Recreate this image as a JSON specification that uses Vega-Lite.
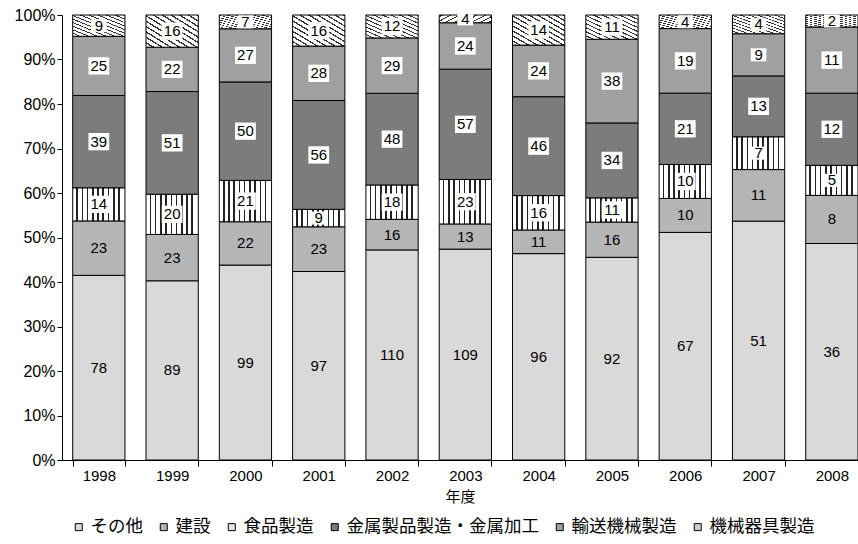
{
  "$schema": "https://vega.github.io/schema/vega-lite/v6.json",
  "width": 796,
  "height": 445,
  "autosize": {"type": "none"},
  "padding": {"left": 62, "top": 15, "right": 0, "bottom": 84},
  "background": "white",
  "config": {
    "view": {"stroke": null},
    "font": "Liberation Sans",
    "axis": {"labelColor": "black", "domainColor": "black", "tickColor": "black", "grid": false, "labelFont": "Liberation Sans", "titleFont": "Noto Sans CJK JP", "titleColor": "black", "titleFontWeight": "normal"},
    "legend": {"labelFont": "Noto Sans CJK JP", "labelColor": "black"}
  },
  "data": {"values": [
    {"year":"1998","cat":"その他","k":1,"n":78},{"year":"1998","cat":"建設","k":2,"n":23},{"year":"1998","cat":"食品製造","k":3,"n":14},{"year":"1998","cat":"金属製品製造・金属加工","k":4,"n":39},{"year":"1998","cat":"輸送機械製造","k":5,"n":25},{"year":"1998","cat":"機械器具製造","k":6,"n":9},
    {"year":"1999","cat":"その他","k":1,"n":89},{"year":"1999","cat":"建設","k":2,"n":23},{"year":"1999","cat":"食品製造","k":3,"n":20},{"year":"1999","cat":"金属製品製造・金属加工","k":4,"n":51},{"year":"1999","cat":"輸送機械製造","k":5,"n":22},{"year":"1999","cat":"機械器具製造","k":6,"n":16},
    {"year":"2000","cat":"その他","k":1,"n":99},{"year":"2000","cat":"建設","k":2,"n":22},{"year":"2000","cat":"食品製造","k":3,"n":21},{"year":"2000","cat":"金属製品製造・金属加工","k":4,"n":50},{"year":"2000","cat":"輸送機械製造","k":5,"n":27},{"year":"2000","cat":"機械器具製造","k":6,"n":7},
    {"year":"2001","cat":"その他","k":1,"n":97},{"year":"2001","cat":"建設","k":2,"n":23},{"year":"2001","cat":"食品製造","k":3,"n":9},{"year":"2001","cat":"金属製品製造・金属加工","k":4,"n":56},{"year":"2001","cat":"輸送機械製造","k":5,"n":28},{"year":"2001","cat":"機械器具製造","k":6,"n":16},
    {"year":"2002","cat":"その他","k":1,"n":110},{"year":"2002","cat":"建設","k":2,"n":16},{"year":"2002","cat":"食品製造","k":3,"n":18},{"year":"2002","cat":"金属製品製造・金属加工","k":4,"n":48},{"year":"2002","cat":"輸送機械製造","k":5,"n":29},{"year":"2002","cat":"機械器具製造","k":6,"n":12},
    {"year":"2003","cat":"その他","k":1,"n":109},{"year":"2003","cat":"建設","k":2,"n":13},{"year":"2003","cat":"食品製造","k":3,"n":23},{"year":"2003","cat":"金属製品製造・金属加工","k":4,"n":57},{"year":"2003","cat":"輸送機械製造","k":5,"n":24},{"year":"2003","cat":"機械器具製造","k":6,"n":4},
    {"year":"2004","cat":"その他","k":1,"n":96},{"year":"2004","cat":"建設","k":2,"n":11},{"year":"2004","cat":"食品製造","k":3,"n":16},{"year":"2004","cat":"金属製品製造・金属加工","k":4,"n":46},{"year":"2004","cat":"輸送機械製造","k":5,"n":24},{"year":"2004","cat":"機械器具製造","k":6,"n":14},
    {"year":"2005","cat":"その他","k":1,"n":92},{"year":"2005","cat":"建設","k":2,"n":16},{"year":"2005","cat":"食品製造","k":3,"n":11},{"year":"2005","cat":"金属製品製造・金属加工","k":4,"n":34},{"year":"2005","cat":"輸送機械製造","k":5,"n":38},{"year":"2005","cat":"機械器具製造","k":6,"n":11},
    {"year":"2006","cat":"その他","k":1,"n":67},{"year":"2006","cat":"建設","k":2,"n":10},{"year":"2006","cat":"食品製造","k":3,"n":10},{"year":"2006","cat":"金属製品製造・金属加工","k":4,"n":21},{"year":"2006","cat":"輸送機械製造","k":5,"n":19},{"year":"2006","cat":"機械器具製造","k":6,"n":4},
    {"year":"2007","cat":"その他","k":1,"n":51},{"year":"2007","cat":"建設","k":2,"n":11},{"year":"2007","cat":"食品製造","k":3,"n":7},{"year":"2007","cat":"金属製品製造・金属加工","k":4,"n":13},{"year":"2007","cat":"輸送機械製造","k":5,"n":9},{"year":"2007","cat":"機械器具製造","k":6,"n":4},
    {"year":"2008","cat":"その他","k":1,"n":36},{"year":"2008","cat":"建設","k":2,"n":8},{"year":"2008","cat":"食品製造","k":3,"n":5},{"year":"2008","cat":"金属製品製造・金属加工","k":4,"n":12},{"year":"2008","cat":"輸送機械製造","k":5,"n":11},{"year":"2008","cat":"機械器具製造","k":6,"n":2}
  ]},
  "encoding": {
    "x": {"field": "year", "type": "nominal", "sort": null,
      "scale": {"paddingInner": 0.287, "paddingOuter": 0.073, "align": 1},
      "axis": {"title": "年度", "labelAngle": 0, "labelFontSize": 15, "tickBand": "extent", "tickSize": 6, "labelPadding": 2, "titleFontSize": 15, "titlePadding": 6}},
    "order": {"field": "k", "type": "quantitative"}
  },
  "layer": [
    {
      "mark": {"type": "bar", "stroke": "black", "strokeWidth": 1},
      "encoding": {
        "y": {"field": "n", "type": "quantitative", "stack": "normalize",
          "scale": {"domain": [0, 1]},
          "axis": {"title": null, "values": [0,0.1,0.2,0.3,0.4,0.5,0.6,0.7,0.8,0.9,1], "format": ".0%", "labelFontSize": 16, "tickSize": 5, "labelPadding": 2}},
        "fill": {
          "condition": [
            {"test": "datum.cat === '食品製造'", "value": {"gradient": "linear", "x1": 0, "y1": 0, "x2": 1, "y2": 0, "stops": [
              {"offset": 0, "color": "#ffffff"}, {"offset": 0.07, "color": "#ffffff"}, {"offset": 0.07, "color": "#222222"}, {"offset": 0.1, "color": "#222222"},
              {"offset": 0.1, "color": "#ffffff"}, {"offset": 0.17, "color": "#ffffff"}, {"offset": 0.17, "color": "#222222"}, {"offset": 0.2, "color": "#222222"},
              {"offset": 0.2, "color": "#ffffff"}, {"offset": 0.27, "color": "#ffffff"}, {"offset": 0.27, "color": "#222222"}, {"offset": 0.3, "color": "#222222"},
              {"offset": 0.3, "color": "#ffffff"}, {"offset": 0.37, "color": "#ffffff"}, {"offset": 0.37, "color": "#222222"}, {"offset": 0.4, "color": "#222222"},
              {"offset": 0.4, "color": "#ffffff"}, {"offset": 0.47, "color": "#ffffff"}, {"offset": 0.47, "color": "#222222"}, {"offset": 0.5, "color": "#222222"},
              {"offset": 0.5, "color": "#ffffff"}, {"offset": 0.57, "color": "#ffffff"}, {"offset": 0.57, "color": "#222222"}, {"offset": 0.6, "color": "#222222"},
              {"offset": 0.6, "color": "#ffffff"}, {"offset": 0.67, "color": "#ffffff"}, {"offset": 0.67, "color": "#222222"}, {"offset": 0.7, "color": "#222222"},
              {"offset": 0.7, "color": "#ffffff"}, {"offset": 0.77, "color": "#ffffff"}, {"offset": 0.77, "color": "#222222"}, {"offset": 0.8, "color": "#222222"},
              {"offset": 0.8, "color": "#ffffff"}, {"offset": 0.87, "color": "#ffffff"}, {"offset": 0.87, "color": "#222222"}, {"offset": 0.9, "color": "#222222"},
              {"offset": 0.9, "color": "#ffffff"}, {"offset": 1, "color": "#ffffff"}]}},
            {"test": "datum.cat === '機械器具製造'", "value": {"gradient": "linear", "x1": 0, "y1": 1, "x2": 1, "y2": 0, "stops": [
              {"offset": 0, "color": "#ffffff"}, {"offset": 0.06, "color": "#ffffff"}, {"offset": 0.06, "color": "#333333"}, {"offset": 0.083, "color": "#333333"},
              {"offset": 0.083, "color": "#ffffff"}, {"offset": 0.143, "color": "#ffffff"}, {"offset": 0.143, "color": "#333333"}, {"offset": 0.167, "color": "#333333"},
              {"offset": 0.167, "color": "#ffffff"}, {"offset": 0.227, "color": "#ffffff"}, {"offset": 0.227, "color": "#333333"}, {"offset": 0.25, "color": "#333333"},
              {"offset": 0.25, "color": "#ffffff"}, {"offset": 0.31, "color": "#ffffff"}, {"offset": 0.31, "color": "#333333"}, {"offset": 0.333, "color": "#333333"},
              {"offset": 0.333, "color": "#ffffff"}, {"offset": 0.393, "color": "#ffffff"}, {"offset": 0.393, "color": "#333333"}, {"offset": 0.417, "color": "#333333"},
              {"offset": 0.417, "color": "#ffffff"}, {"offset": 0.477, "color": "#ffffff"}, {"offset": 0.477, "color": "#333333"}, {"offset": 0.5, "color": "#333333"},
              {"offset": 0.5, "color": "#ffffff"}, {"offset": 0.56, "color": "#ffffff"}, {"offset": 0.56, "color": "#333333"}, {"offset": 0.583, "color": "#333333"},
              {"offset": 0.583, "color": "#ffffff"}, {"offset": 0.643, "color": "#ffffff"}, {"offset": 0.643, "color": "#333333"}, {"offset": 0.667, "color": "#333333"},
              {"offset": 0.667, "color": "#ffffff"}, {"offset": 0.727, "color": "#ffffff"}, {"offset": 0.727, "color": "#333333"}, {"offset": 0.75, "color": "#333333"},
              {"offset": 0.75, "color": "#ffffff"}, {"offset": 0.81, "color": "#ffffff"}, {"offset": 0.81, "color": "#333333"}, {"offset": 0.833, "color": "#333333"},
              {"offset": 0.833, "color": "#ffffff"}, {"offset": 0.893, "color": "#ffffff"}, {"offset": 0.893, "color": "#333333"}, {"offset": 0.917, "color": "#333333"},
              {"offset": 0.917, "color": "#ffffff"}, {"offset": 0.977, "color": "#ffffff"}, {"offset": 0.977, "color": "#333333"}, {"offset": 1, "color": "#333333"}]}}
          ],
          "field": "cat", "type": "nominal",
          "scale": {"domain": ["その他", "建設", "食品製造", "金属製品製造・金属加工", "輸送機械製造", "機械器具製造"],
                    "range": ["#d9d9d9", "#b5b5b5", "#e6e6e6", "#7c7c7c", "#a0a0a0", "#cfcfcf"]},
          "legend": {"title": null, "orient": "none", "direction": "horizontal", "legendX": 8, "legendY": 503,
            "symbolType": "square", "symbolSize": 49, "symbolStrokeColor": "black", "symbolStrokeWidth": 1, "symbolOpacity": 1,
            "labelFontSize": 17.5, "labelOffset": 3, "labelLimit": 0, "columnPadding": 12}
        }
      }
    },
    {
      "mark": {"type": "point", "filled": true, "shape": "M-1.2,-1H1.2V1H-1.2Z", "fill": "white", "strokeWidth": 0},
      "encoding": {
        "y": {"field": "n", "type": "quantitative", "stack": "normalize", "bandPosition": 0.5},
        "opacity": {"condition": {"test": "datum.k >= 3", "value": 1}, "value": 0},
        "size": {"condition": {"test": "datum.n >= 10", "value": 300}, "value": 170}
      }
    },
    {
      "mark": {"type": "text", "fontSize": 15, "color": "black", "baseline": "middle", "align": "center"},
      "encoding": {
        "y": {"field": "n", "type": "quantitative", "stack": "normalize", "bandPosition": 0.5},
        "text": {"field": "n", "type": "quantitative"}
      }
    }
  ]
}
